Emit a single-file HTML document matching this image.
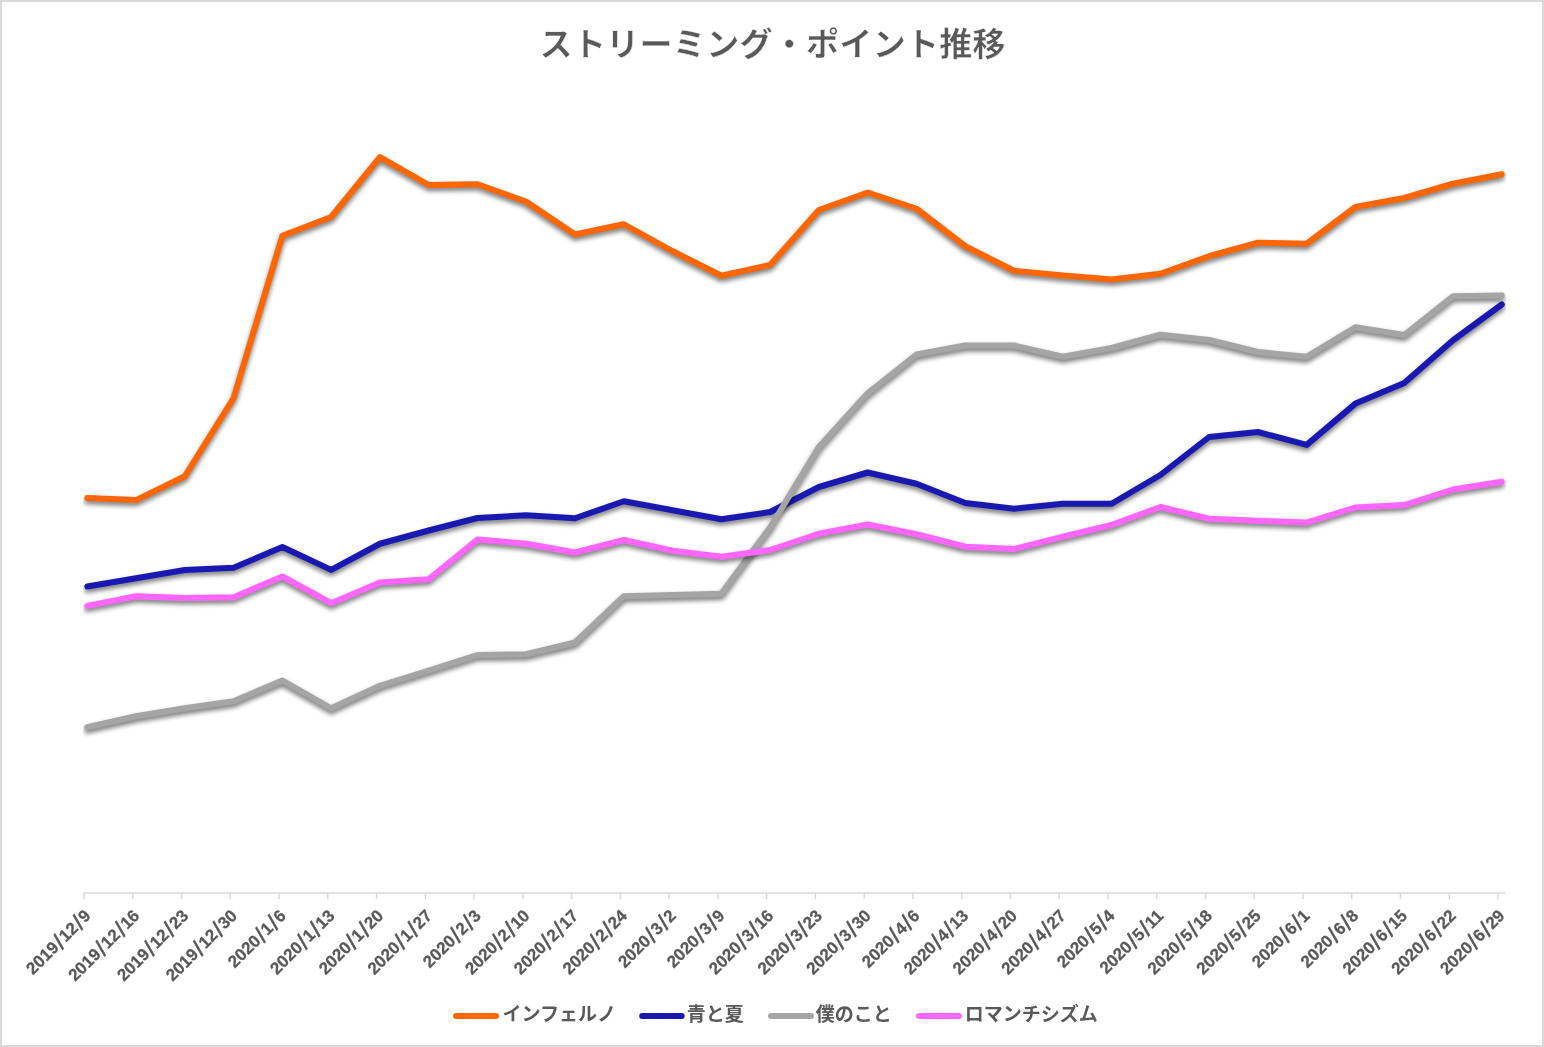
<!DOCTYPE html>
<html lang="ja"><head><meta charset="utf-8"><title>ストリーミング・ポイント推移</title>
<style>
html,body{margin:0;padding:0;background:#fff;}
body{width:1544px;height:1047px;overflow:hidden;}
svg{display:block;}
.t{font-family:"Liberation Sans","Noto Sans CJK JP",sans-serif;font-weight:700;fill:#595959;}
.s{font-size:23px;font-weight:400;stroke:#595959;stroke-width:0.65px;}
.d{font-family:"Liberation Sans",sans-serif;font-weight:700;fill:#595959;font-size:17px;stroke:#595959;stroke-width:0.25px;}
</style></head><body>
<svg width="1544" height="1047" viewBox="0 0 1544 1047">
<defs>
<filter id="sh" x="0" y="0" width="1544" height="1047" filterUnits="userSpaceOnUse">
<feGaussianBlur in="SourceAlpha" stdDeviation="2.5"/>
<feOffset dx="0.3" dy="3.3" result="o"/>
<feComponentTransfer><feFuncA type="linear" slope="0.55"/></feComponentTransfer>
</filter>
<clipPath id="pc"><rect x="83" y="80" width="1423.2" height="813"/></clipPath>
</defs>
<rect x="0" y="0" width="1544" height="1047" fill="#D9D9D9"/>
<rect x="2" y="2" width="1540" height="1043" fill="#FFFFFF"/>
<text class="t" x="772.6" y="56" font-size="33" text-anchor="middle" textLength="466" stroke="#fff" stroke-width="0.4" lengthAdjust="spacing">ストリーミング・ポイント推移</text>
<g stroke="#D9D9D9" stroke-width="1.5" fill="none">
<line x1="83.3" y1="893" x2="1505" y2="893"/>
<line x1="84.00" y1="893" x2="84.00" y2="899.3"/>
<line x1="132.76" y1="893" x2="132.76" y2="899.3"/>
<line x1="181.52" y1="893" x2="181.52" y2="899.3"/>
<line x1="230.28" y1="893" x2="230.28" y2="899.3"/>
<line x1="279.04" y1="893" x2="279.04" y2="899.3"/>
<line x1="327.80" y1="893" x2="327.80" y2="899.3"/>
<line x1="376.55" y1="893" x2="376.55" y2="899.3"/>
<line x1="425.31" y1="893" x2="425.31" y2="899.3"/>
<line x1="474.07" y1="893" x2="474.07" y2="899.3"/>
<line x1="522.83" y1="893" x2="522.83" y2="899.3"/>
<line x1="571.59" y1="893" x2="571.59" y2="899.3"/>
<line x1="620.35" y1="893" x2="620.35" y2="899.3"/>
<line x1="669.11" y1="893" x2="669.11" y2="899.3"/>
<line x1="717.87" y1="893" x2="717.87" y2="899.3"/>
<line x1="766.63" y1="893" x2="766.63" y2="899.3"/>
<line x1="815.38" y1="893" x2="815.38" y2="899.3"/>
<line x1="864.14" y1="893" x2="864.14" y2="899.3"/>
<line x1="912.90" y1="893" x2="912.90" y2="899.3"/>
<line x1="961.66" y1="893" x2="961.66" y2="899.3"/>
<line x1="1010.42" y1="893" x2="1010.42" y2="899.3"/>
<line x1="1059.18" y1="893" x2="1059.18" y2="899.3"/>
<line x1="1107.94" y1="893" x2="1107.94" y2="899.3"/>
<line x1="1156.70" y1="893" x2="1156.70" y2="899.3"/>
<line x1="1205.46" y1="893" x2="1205.46" y2="899.3"/>
<line x1="1254.22" y1="893" x2="1254.22" y2="899.3"/>
<line x1="1302.97" y1="893" x2="1302.97" y2="899.3"/>
<line x1="1351.73" y1="893" x2="1351.73" y2="899.3"/>
<line x1="1400.49" y1="893" x2="1400.49" y2="899.3"/>
<line x1="1449.25" y1="893" x2="1449.25" y2="899.3"/>
<line x1="1498.01" y1="893" x2="1498.01" y2="899.3"/>
</g>
<g clip-path="url(#pc)">
<polyline points="87.30,498.10 136.07,500.10 184.85,476.25 233.62,398.00 282.40,235.75 331.18,217.00 379.95,157.20 428.73,185.00 477.50,184.25 526.27,201.75 575.05,234.50 623.82,224.25 672.60,251.25 721.37,275.75 770.15,265.00 818.92,210.00 867.70,192.50 916.47,208.75 965.25,246.25 1014.02,270.75 1062.80,275.50 1111.57,279.50 1160.35,273.75 1209.12,256.25 1257.90,242.75 1306.67,243.75 1355.45,207.00 1404.22,198.00 1453.00,183.75 1501.77,174.25" fill="none" stroke="#000" stroke-width="6" stroke-linejoin="round" stroke-linecap="round" filter="url(#sh)"/>
<polyline points="87.30,498.10 136.07,500.10 184.85,476.25 233.62,398.00 282.40,235.75 331.18,217.00 379.95,157.20 428.73,185.00 477.50,184.25 526.27,201.75 575.05,234.50 623.82,224.25 672.60,251.25 721.37,275.75 770.15,265.00 818.92,210.00 867.70,192.50 916.47,208.75 965.25,246.25 1014.02,270.75 1062.80,275.50 1111.57,279.50 1160.35,273.75 1209.12,256.25 1257.90,242.75 1306.67,243.75 1355.45,207.00 1404.22,198.00 1453.00,183.75 1501.77,174.25" fill="none" stroke="#FF6600" stroke-width="6" stroke-linejoin="round" stroke-linecap="round"/>
<polyline points="87.30,586.50 136.07,578.25 184.85,570.00 233.62,567.75 282.40,547.00 331.18,569.90 379.95,543.75 428.73,530.50 477.50,518.00 526.27,515.25 575.05,518.25 623.82,501.25 672.60,510.25 721.37,519.25 770.15,512.00 818.92,487.00 867.70,472.50 916.47,483.75 965.25,503.00 1014.02,508.75 1062.80,503.75 1111.57,503.75 1160.35,475.00 1209.12,437.00 1257.90,432.00 1306.67,444.90 1355.45,403.60 1404.22,383.00 1453.00,340.25 1501.77,304.50" fill="none" stroke="#000" stroke-width="6" stroke-linejoin="round" stroke-linecap="round" filter="url(#sh)"/>
<polyline points="87.30,586.50 136.07,578.25 184.85,570.00 233.62,567.75 282.40,547.00 331.18,569.90 379.95,543.75 428.73,530.50 477.50,518.00 526.27,515.25 575.05,518.25 623.82,501.25 672.60,510.25 721.37,519.25 770.15,512.00 818.92,487.00 867.70,472.50 916.47,483.75 965.25,503.00 1014.02,508.75 1062.80,503.75 1111.57,503.75 1160.35,475.00 1209.12,437.00 1257.90,432.00 1306.67,444.90 1355.45,403.60 1404.22,383.00 1453.00,340.25 1501.77,304.50" fill="none" stroke="#1919B2" stroke-width="6" stroke-linejoin="round" stroke-linecap="round"/>
<polyline points="87.30,727.30 136.07,716.25 184.85,708.25 233.62,701.25 282.40,680.50 331.18,708.25 379.95,685.75 428.73,670.50 477.50,655.00 526.27,654.25 575.05,642.50 623.82,596.25 672.60,595.00 721.37,593.75 770.15,527.50 818.92,447.00 867.70,393.30 916.47,354.50 965.25,345.50 1014.02,345.50 1062.80,356.75 1111.57,348.00 1160.35,334.75 1209.12,340.00 1257.90,352.00 1306.67,356.75 1355.45,327.25 1404.22,335.00 1453.00,296.25 1501.77,295.50" fill="none" stroke="#000" stroke-width="6" stroke-linejoin="round" stroke-linecap="round" filter="url(#sh)"/>
<polyline points="87.30,727.30 136.07,716.25 184.85,708.25 233.62,701.25 282.40,680.50 331.18,708.25 379.95,685.75 428.73,670.50 477.50,655.00 526.27,654.25 575.05,642.50 623.82,596.25 672.60,595.00 721.37,593.75 770.15,527.50 818.92,447.00 867.70,393.30 916.47,354.50 965.25,345.50 1014.02,345.50 1062.80,356.75 1111.57,348.00 1160.35,334.75 1209.12,340.00 1257.90,352.00 1306.67,356.75 1355.45,327.25 1404.22,335.00 1453.00,296.25 1501.77,295.50" fill="none" stroke="#A5A5A5" stroke-width="6" stroke-linejoin="round" stroke-linecap="round"/>
<polyline points="87.30,605.90 136.07,596.25 184.85,598.00 233.62,597.25 282.40,576.50 331.18,603.20 379.95,582.50 428.73,579.25 477.50,539.50 526.27,543.75 575.05,552.50 623.82,540.00 672.60,550.75 721.37,556.75 770.15,550.00 818.92,533.75 867.70,524.50 916.47,534.25 965.25,546.75 1014.02,549.00 1062.80,536.75 1111.57,525.00 1160.35,507.00 1209.12,518.75 1257.90,520.75 1306.67,522.50 1355.45,507.50 1404.22,505.00 1453.00,489.50 1501.77,481.75" fill="none" stroke="#000" stroke-width="6" stroke-linejoin="round" stroke-linecap="round" filter="url(#sh)"/>
<polyline points="87.30,605.90 136.07,596.25 184.85,598.00 233.62,597.25 282.40,576.50 331.18,603.20 379.95,582.50 428.73,579.25 477.50,539.50 526.27,543.75 575.05,552.50 623.82,540.00 672.60,550.75 721.37,556.75 770.15,550.00 818.92,533.75 867.70,524.50 916.47,534.25 965.25,546.75 1014.02,549.00 1062.80,536.75 1111.57,525.00 1160.35,507.00 1209.12,518.75 1257.90,520.75 1306.67,522.50 1355.45,507.50 1404.22,505.00 1453.00,489.50 1501.77,481.75" fill="none" stroke="#FF66FF" stroke-width="6" stroke-linejoin="round" stroke-linecap="round"/>
</g>
<text class="d" text-anchor="end" transform="translate(91.80,916.70) rotate(-45)">2019<tspan class="s" dx="1" dy="2.4">/</tspan><tspan dx="1" dy="-2.4">12</tspan><tspan class="s" dx="1" dy="2.4">/</tspan><tspan dx="1" dy="-2.4">9</tspan></text>
<text class="d" text-anchor="end" transform="translate(140.56,916.70) rotate(-45)">2019<tspan class="s" dx="1" dy="2.4">/</tspan><tspan dx="1" dy="-2.4">12</tspan><tspan class="s" dx="1" dy="2.4">/</tspan><tspan dx="1" dy="-2.4">16</tspan></text>
<text class="d" text-anchor="end" transform="translate(189.32,916.70) rotate(-45)">2019<tspan class="s" dx="1" dy="2.4">/</tspan><tspan dx="1" dy="-2.4">12</tspan><tspan class="s" dx="1" dy="2.4">/</tspan><tspan dx="1" dy="-2.4">23</tspan></text>
<text class="d" text-anchor="end" transform="translate(238.08,916.70) rotate(-45)">2019<tspan class="s" dx="1" dy="2.4">/</tspan><tspan dx="1" dy="-2.4">12</tspan><tspan class="s" dx="1" dy="2.4">/</tspan><tspan dx="1" dy="-2.4">30</tspan></text>
<text class="d" text-anchor="end" transform="translate(286.84,916.70) rotate(-45)">2020<tspan class="s" dx="1" dy="2.4">/</tspan><tspan dx="1" dy="-2.4">1</tspan><tspan class="s" dx="1" dy="2.4">/</tspan><tspan dx="1" dy="-2.4">6</tspan></text>
<text class="d" text-anchor="end" transform="translate(335.60,916.70) rotate(-45)">2020<tspan class="s" dx="1" dy="2.4">/</tspan><tspan dx="1" dy="-2.4">1</tspan><tspan class="s" dx="1" dy="2.4">/</tspan><tspan dx="1" dy="-2.4">13</tspan></text>
<text class="d" text-anchor="end" transform="translate(384.35,916.70) rotate(-45)">2020<tspan class="s" dx="1" dy="2.4">/</tspan><tspan dx="1" dy="-2.4">1</tspan><tspan class="s" dx="1" dy="2.4">/</tspan><tspan dx="1" dy="-2.4">20</tspan></text>
<text class="d" text-anchor="end" transform="translate(433.11,916.70) rotate(-45)">2020<tspan class="s" dx="1" dy="2.4">/</tspan><tspan dx="1" dy="-2.4">1</tspan><tspan class="s" dx="1" dy="2.4">/</tspan><tspan dx="1" dy="-2.4">27</tspan></text>
<text class="d" text-anchor="end" transform="translate(481.87,916.70) rotate(-45)">2020<tspan class="s" dx="1" dy="2.4">/</tspan><tspan dx="1" dy="-2.4">2</tspan><tspan class="s" dx="1" dy="2.4">/</tspan><tspan dx="1" dy="-2.4">3</tspan></text>
<text class="d" text-anchor="end" transform="translate(530.63,916.70) rotate(-45)">2020<tspan class="s" dx="1" dy="2.4">/</tspan><tspan dx="1" dy="-2.4">2</tspan><tspan class="s" dx="1" dy="2.4">/</tspan><tspan dx="1" dy="-2.4">10</tspan></text>
<text class="d" text-anchor="end" transform="translate(579.39,916.70) rotate(-45)">2020<tspan class="s" dx="1" dy="2.4">/</tspan><tspan dx="1" dy="-2.4">2</tspan><tspan class="s" dx="1" dy="2.4">/</tspan><tspan dx="1" dy="-2.4">17</tspan></text>
<text class="d" text-anchor="end" transform="translate(628.15,916.70) rotate(-45)">2020<tspan class="s" dx="1" dy="2.4">/</tspan><tspan dx="1" dy="-2.4">2</tspan><tspan class="s" dx="1" dy="2.4">/</tspan><tspan dx="1" dy="-2.4">24</tspan></text>
<text class="d" text-anchor="end" transform="translate(676.91,916.70) rotate(-45)">2020<tspan class="s" dx="1" dy="2.4">/</tspan><tspan dx="1" dy="-2.4">3</tspan><tspan class="s" dx="1" dy="2.4">/</tspan><tspan dx="1" dy="-2.4">2</tspan></text>
<text class="d" text-anchor="end" transform="translate(725.67,916.70) rotate(-45)">2020<tspan class="s" dx="1" dy="2.4">/</tspan><tspan dx="1" dy="-2.4">3</tspan><tspan class="s" dx="1" dy="2.4">/</tspan><tspan dx="1" dy="-2.4">9</tspan></text>
<text class="d" text-anchor="end" transform="translate(774.43,916.70) rotate(-45)">2020<tspan class="s" dx="1" dy="2.4">/</tspan><tspan dx="1" dy="-2.4">3</tspan><tspan class="s" dx="1" dy="2.4">/</tspan><tspan dx="1" dy="-2.4">16</tspan></text>
<text class="d" text-anchor="end" transform="translate(823.19,916.70) rotate(-45)">2020<tspan class="s" dx="1" dy="2.4">/</tspan><tspan dx="1" dy="-2.4">3</tspan><tspan class="s" dx="1" dy="2.4">/</tspan><tspan dx="1" dy="-2.4">23</tspan></text>
<text class="d" text-anchor="end" transform="translate(871.94,916.70) rotate(-45)">2020<tspan class="s" dx="1" dy="2.4">/</tspan><tspan dx="1" dy="-2.4">3</tspan><tspan class="s" dx="1" dy="2.4">/</tspan><tspan dx="1" dy="-2.4">30</tspan></text>
<text class="d" text-anchor="end" transform="translate(920.70,916.70) rotate(-45)">2020<tspan class="s" dx="1" dy="2.4">/</tspan><tspan dx="1" dy="-2.4">4</tspan><tspan class="s" dx="1" dy="2.4">/</tspan><tspan dx="1" dy="-2.4">6</tspan></text>
<text class="d" text-anchor="end" transform="translate(969.46,916.70) rotate(-45)">2020<tspan class="s" dx="1" dy="2.4">/</tspan><tspan dx="1" dy="-2.4">4</tspan><tspan class="s" dx="1" dy="2.4">/</tspan><tspan dx="1" dy="-2.4">13</tspan></text>
<text class="d" text-anchor="end" transform="translate(1018.22,916.70) rotate(-45)">2020<tspan class="s" dx="1" dy="2.4">/</tspan><tspan dx="1" dy="-2.4">4</tspan><tspan class="s" dx="1" dy="2.4">/</tspan><tspan dx="1" dy="-2.4">20</tspan></text>
<text class="d" text-anchor="end" transform="translate(1066.98,916.70) rotate(-45)">2020<tspan class="s" dx="1" dy="2.4">/</tspan><tspan dx="1" dy="-2.4">4</tspan><tspan class="s" dx="1" dy="2.4">/</tspan><tspan dx="1" dy="-2.4">27</tspan></text>
<text class="d" text-anchor="end" transform="translate(1115.74,916.70) rotate(-45)">2020<tspan class="s" dx="1" dy="2.4">/</tspan><tspan dx="1" dy="-2.4">5</tspan><tspan class="s" dx="1" dy="2.4">/</tspan><tspan dx="1" dy="-2.4">4</tspan></text>
<text class="d" text-anchor="end" transform="translate(1164.50,916.70) rotate(-45)">2020<tspan class="s" dx="1" dy="2.4">/</tspan><tspan dx="1" dy="-2.4">5</tspan><tspan class="s" dx="1" dy="2.4">/</tspan><tspan dx="1" dy="-2.4">11</tspan></text>
<text class="d" text-anchor="end" transform="translate(1213.26,916.70) rotate(-45)">2020<tspan class="s" dx="1" dy="2.4">/</tspan><tspan dx="1" dy="-2.4">5</tspan><tspan class="s" dx="1" dy="2.4">/</tspan><tspan dx="1" dy="-2.4">18</tspan></text>
<text class="d" text-anchor="end" transform="translate(1262.02,916.70) rotate(-45)">2020<tspan class="s" dx="1" dy="2.4">/</tspan><tspan dx="1" dy="-2.4">5</tspan><tspan class="s" dx="1" dy="2.4">/</tspan><tspan dx="1" dy="-2.4">25</tspan></text>
<text class="d" text-anchor="end" transform="translate(1310.77,916.70) rotate(-45)">2020<tspan class="s" dx="1" dy="2.4">/</tspan><tspan dx="1" dy="-2.4">6</tspan><tspan class="s" dx="1" dy="2.4">/</tspan><tspan dx="1" dy="-2.4">1</tspan></text>
<text class="d" text-anchor="end" transform="translate(1359.53,916.70) rotate(-45)">2020<tspan class="s" dx="1" dy="2.4">/</tspan><tspan dx="1" dy="-2.4">6</tspan><tspan class="s" dx="1" dy="2.4">/</tspan><tspan dx="1" dy="-2.4">8</tspan></text>
<text class="d" text-anchor="end" transform="translate(1408.29,916.70) rotate(-45)">2020<tspan class="s" dx="1" dy="2.4">/</tspan><tspan dx="1" dy="-2.4">6</tspan><tspan class="s" dx="1" dy="2.4">/</tspan><tspan dx="1" dy="-2.4">15</tspan></text>
<text class="d" text-anchor="end" transform="translate(1457.05,916.70) rotate(-45)">2020<tspan class="s" dx="1" dy="2.4">/</tspan><tspan dx="1" dy="-2.4">6</tspan><tspan class="s" dx="1" dy="2.4">/</tspan><tspan dx="1" dy="-2.4">22</tspan></text>
<text class="d" text-anchor="end" transform="translate(1505.81,916.70) rotate(-45)">2020<tspan class="s" dx="1" dy="2.4">/</tspan><tspan dx="1" dy="-2.4">6</tspan><tspan class="s" dx="1" dy="2.4">/</tspan><tspan dx="1" dy="-2.4">29</tspan></text>
<line x1="456.0" y1="1016" x2="496.0" y2="1016" stroke="#FF6600" stroke-width="6" stroke-linecap="round"/>
<text class="t" x="502.5" y="1020.9" font-size="19">インフェルノ</text>
<line x1="642.2" y1="1016" x2="681.7" y2="1016" stroke="#1919B2" stroke-width="6" stroke-linecap="round"/>
<text class="t" x="686.8" y="1020.9" font-size="19">青と夏</text>
<line x1="771.0" y1="1016" x2="811.0" y2="1016" stroke="#A5A5A5" stroke-width="6" stroke-linecap="round"/>
<text class="t" x="815.7" y="1020.9" font-size="19">僕のこと</text>
<line x1="919.0" y1="1016" x2="958.8" y2="1016" stroke="#FF66FF" stroke-width="6" stroke-linecap="round"/>
<text class="t" x="964.7" y="1020.9" font-size="19">ロマンチシズム</text>
</svg>
</body></html>
